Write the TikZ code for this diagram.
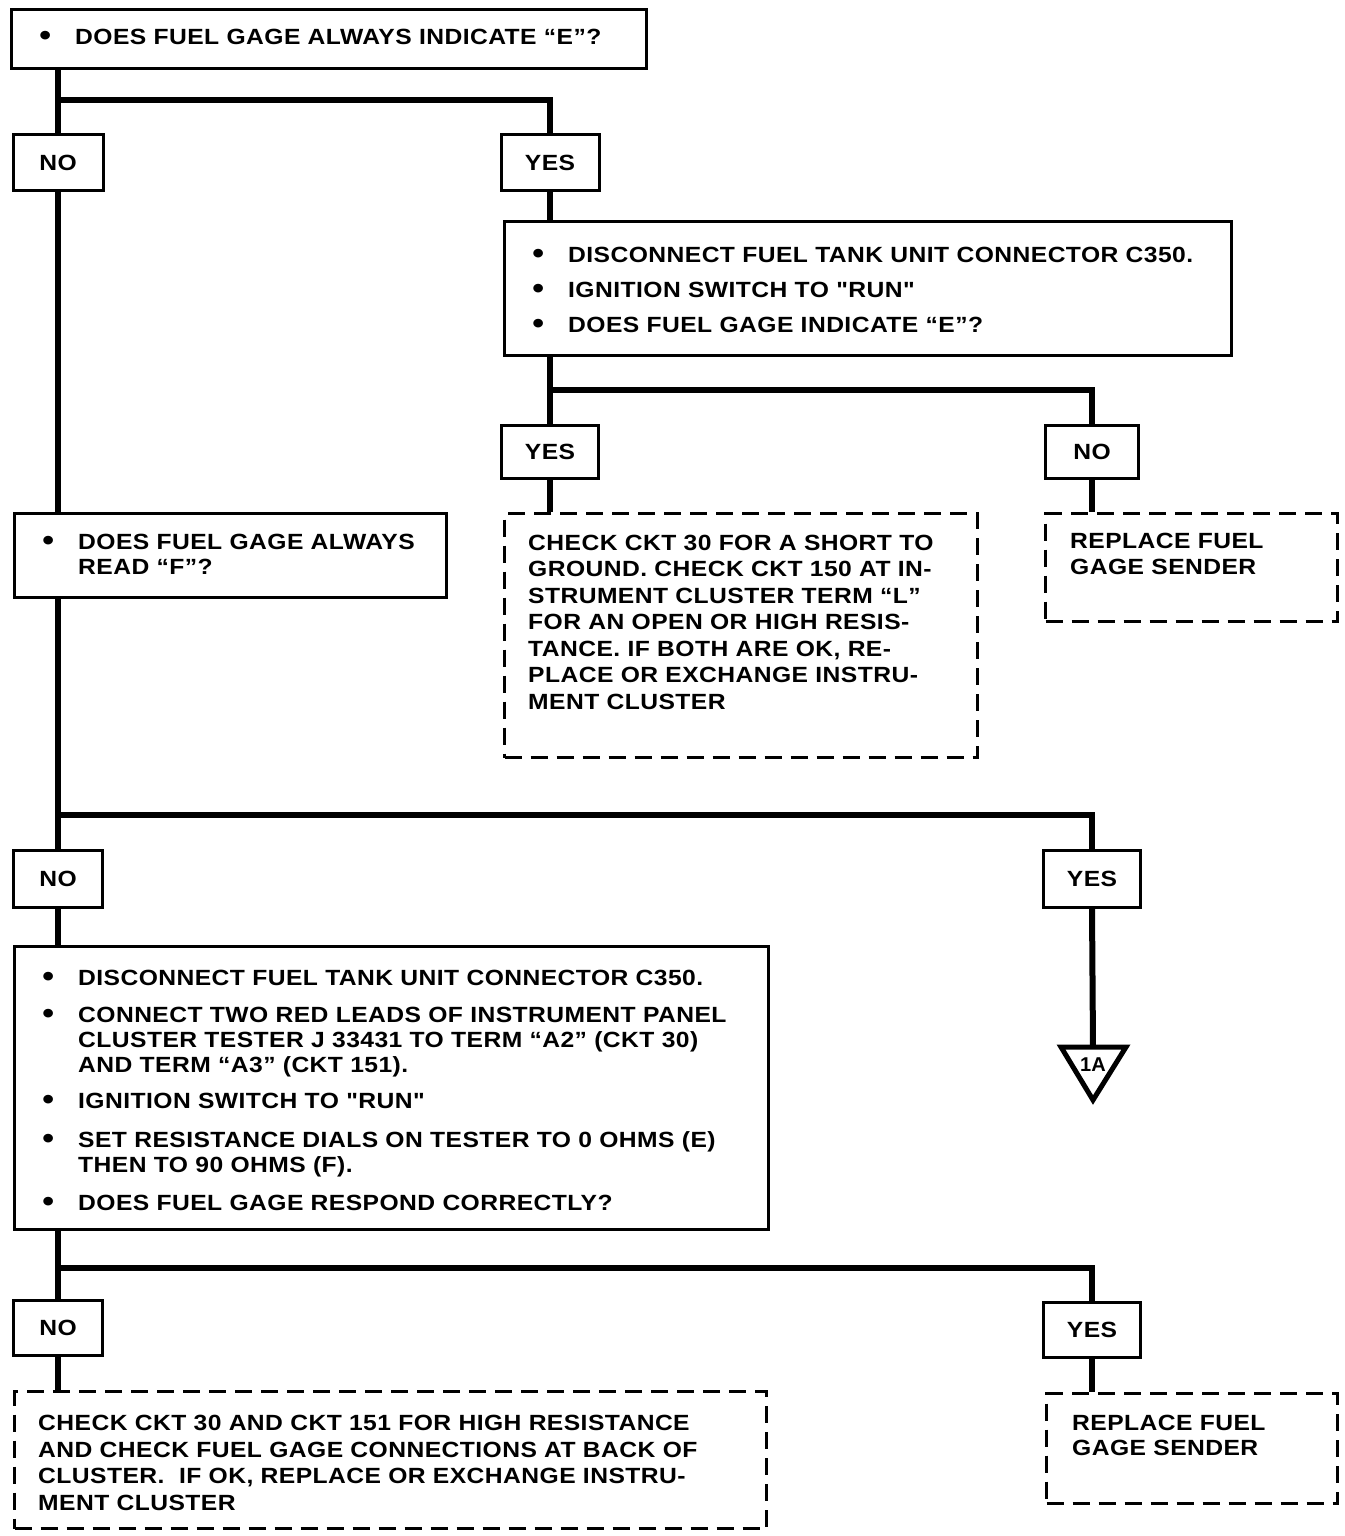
\documentclass[tikz,border=0pt]{standalone}
\usepackage{fontspec}
\newfontfamily\gagefont{Liberation Sans}[FakeStretch=1.12,LetterSpace=2]
\newfontfamily\tagfont{Liberation Sans}
\newcommand\bul{\llap{\raisebox{-1pt}{\fontsize{30}{26}\selectfont •}\hspace{24pt}}}
\tikzset{
  conn/.style={line width=6pt},
  sbox/.style={draw, line width=3pt, anchor=north west, inner sep=0pt},
  dbox/.style={draw, line width=3pt, dash pattern=on 17pt off 9pt, anchor=north west, inner sep=0pt},
  lbl/.style={draw, line width=3pt, inner sep=0pt, minimum height=55pt, font=\gagefont\bfseries\fontsize{22}{26}\selectfont},
  txt/.style={anchor=base west, inner sep=0pt, font=\gagefont\bfseries\fontsize{22}{26}\selectfont},
}
\begin{document}
\begin{tikzpicture}[x={(1pt,0pt)}, y={(0pt,-1pt)}]
\fill[white] (0,0) rectangle (1344,1536);
\useasboundingbox (0,0) rectangle (1344,1536);

% boxes
\node[sbox, minimum width=635pt, minimum height=59pt] (A) at (10,8) {};
\node[sbox, minimum width=727pt, minimum height=134pt] (B) at (503,220) {};
\node[dbox, minimum width=473pt, minimum height=244pt] (C) at (503,512) {};
\node[dbox, minimum width=292pt, minimum height=108pt] (D) at (1044,512) {};
\node[sbox, minimum width=432pt, minimum height=84pt] (E) at (13,512) {};
\node[sbox, minimum width=754pt, minimum height=283pt] (F) at (13,945) {};
\node[dbox, minimum width=752pt, minimum height=137pt] (G) at (13,1390) {};
\node[dbox, minimum width=291pt, minimum height=110pt] (H) at (1045,1392) {};

% labels
\node[lbl, minimum width=90pt] (NO1) at (58,162.5) {NO};
\node[lbl, minimum width=98pt] (YES1) at (550,162.5) {YES};
\node[lbl, minimum width=97pt, minimum height=53pt] (YES2) at (550,451.5) {YES};
\node[lbl, minimum width=93pt, minimum height=53pt] (NO2) at (1092,451.5) {NO};
\node[lbl, minimum width=89pt, minimum height=57pt] (NO3) at (58,878.5) {NO};
\node[lbl, minimum width=97pt, minimum height=57pt] (YES3) at (1092,878.5) {YES};
\node[lbl, minimum width=89pt] (NO4) at (58,1327.5) {NO};
\node[lbl, minimum width=97pt] (YES4) at (1092,1329.5) {YES};

% off-page connector triangle
\node[inner sep=0pt, font=\tagfont\bfseries\fontsize{20}{22}\selectfont] (T1A) at (1093,1065) {1A};
\coordinate (Ttop) at (1093,1047);
\draw[line width=5pt, line join=miter] (1061,1047) -- (1126,1047) -- (1093,1100) -- cycle;

% junction points
\coordinate (j1) at (58,100);
\coordinate (j2) at (550,390);
\coordinate (j3) at (58,815);
\coordinate (j4) at (58,1268);

% connectors
\draw[conn] (A.south -| NO1.north) -- (NO1.north);
\draw[conn] (j1) -| (YES1.north);
\draw[conn] (YES1.south) -- (YES1.south |- B.north);
\draw[conn] (B.south -| YES2.north) -- (YES2.north);
\draw[conn] (j2) -| (NO2.north);
\draw[conn] (YES2.south) -- (YES2.south |- C.north);
\draw[conn] (NO2.south) -- (NO2.south |- D.north);
\draw[conn] (NO1.south) -- (NO1.south |- E.north);
\draw[conn] (E.south -| NO3.north) -- (NO3.north);
\draw[conn] (j3) -| (YES3.north);
\draw[conn] (YES3.south) -- (Ttop);
\draw[conn] (NO3.south) -- (NO3.south |- F.north);
\draw[conn] (F.south -| NO4.north) -- (NO4.north);
\draw[conn] (j4) -| (YES4.north);
\draw[conn] (NO4.south) -- (NO4.south |- G.north);
\draw[conn] (YES4.south) -- (YES4.south |- H.north);

% texts
\node[txt] (tA) at (75,45) {\bul DOES FUEL GAGE ALWAYS INDICATE “E”?};

\node[txt] (tB1) at (568,262) {\bul DISCONNECT FUEL TANK UNIT CONNECTOR C350.};
\node[txt] (tB2) at (568,297) {\bul IGNITION SWITCH TO "RUN"};
\node[txt] (tB3) at (568,332) {\bul DOES FUEL GAGE INDICATE “E”?};

\foreach \ss [count=\i] in {CHECK CKT 30 FOR A SHORT TO,
  GROUND. CHECK CKT 150 AT IN-,
  STRUMENT CLUSTER TERM “L”,
  FOR AN OPEN OR HIGH RESIS-,
  {TANCE. IF BOTH ARE OK, RE-},
  PLACE OR EXCHANGE INSTRU-,
  MENT CLUSTER}
  {\node[txt] (tC\i) at (528,{550+26.5*(\i-1)}) {\ss};}

\node[txt] (tD1) at (1070,548) {REPLACE FUEL};
\node[txt] (tD2) at (1070,574) {GAGE SENDER};

\node[txt] (tE1) at (78,549) {\bul DOES FUEL GAGE ALWAYS};
\node[txt] (tE2) at (78,574) {READ “F”?};

\node[txt] (tF1) at (78,985) {\bul DISCONNECT FUEL TANK UNIT CONNECTOR C350.};
\node[txt] (tF2) at (78,1022) {\bul CONNECT TWO RED LEADS OF INSTRUMENT PANEL};
\node[txt] (tF3) at (78,1047) {CLUSTER TESTER J 33431 TO TERM “A2” (CKT 30)};
\node[txt] (tF4) at (78,1072) {AND TERM “A3” (CKT 151).};
\node[txt] (tF5) at (78,1108) {\bul IGNITION SWITCH TO "RUN"};
\node[txt] (tF6) at (78,1147) {\bul SET RESISTANCE DIALS ON TESTER TO 0 OHMS (E)};
\node[txt] (tF7) at (78,1172) {THEN TO 90 OHMS (F).};
\node[txt] (tF8) at (78,1210) {\bul DOES FUEL GAGE RESPOND CORRECTLY?};

\node[txt] (tG1) at (38,1430) {CHECK CKT 30 AND CKT 151 FOR HIGH RESISTANCE};
\node[txt] (tG2) at (38,1457) {AND CHECK FUEL GAGE CONNECTIONS AT BACK OF};
\node[txt] (tG3) at (38,1483) {CLUSTER.\ \ IF OK, REPLACE OR EXCHANGE INSTRU-};
\node[txt] (tG4) at (38,1510) {MENT CLUSTER};

\node[txt] (tH1) at (1072,1430) {REPLACE FUEL};
\node[txt] (tH2) at (1072,1455) {GAGE SENDER};
\end{tikzpicture}
\end{document}
